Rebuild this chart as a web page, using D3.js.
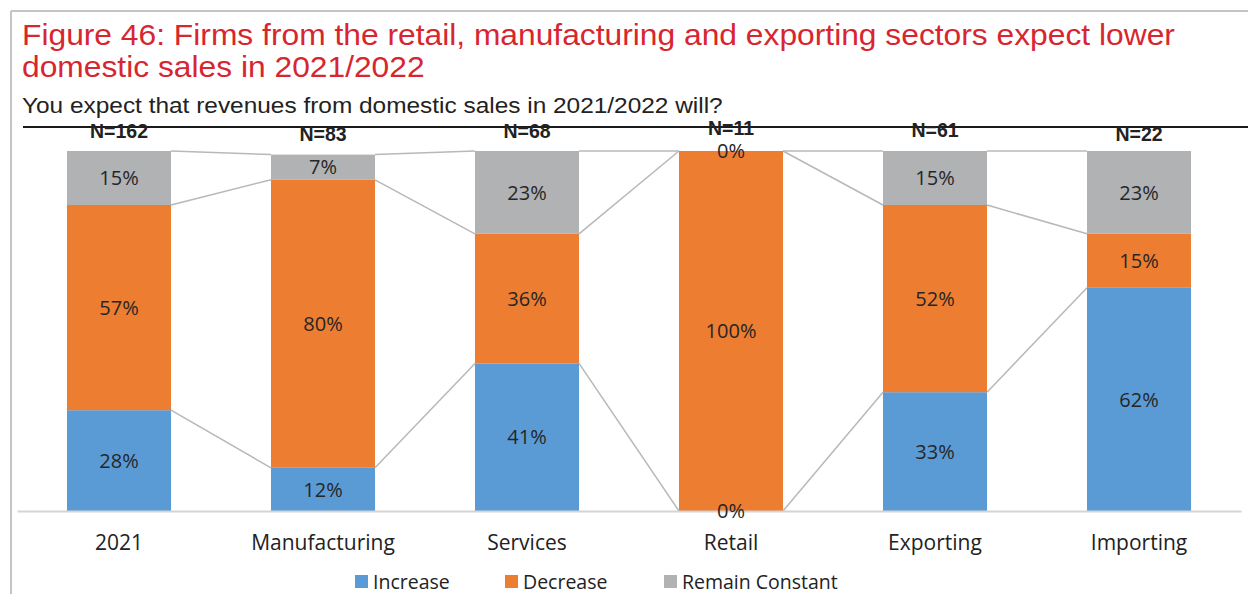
<!DOCTYPE html>
<html>
<head>
<meta charset="utf-8">
<script src="https://cdn.jsdelivr.net/npm/d3@7"></script>
<style>
  html, body { margin: 0; padding: 0; background: #fff; }
  svg { display: block; }
</style>
</head>
<body>
<svg id="chart" width="1248" height="594"></svg>
<script>
// Sector breakdown of expected domestic sales, 2021/2022 (%)
const categories = ["2021", "Manufacturing", "Services", "Retail", "Exporting", "Importing"];
const sampleSizes = ["N=162", "N=83", "N=68", "N=11", "N=61", "N=22"];
const increase = [28, 12, 41, 0, 33, 62];
const decrease = [57, 80, 36, 100, 52, 15];
const remainConstant = [15, 7, 23, 0, 15, 23];
const seriesNames = ["Increase", "Decrease", "Remain Constant"];
const seriesColors = ["#5b9bd5", "#ed7d31", "#b1b2b4"];

const titleLines = [
  "Figure 46: Firms from the retail, manufacturing and exporting sectors expect lower",
  "domestic sales in 2021/2022"
];
const subtitle = "You expect that revenues from domestic sales in 2021/2022 will?";

// Hand-placed vertical nudges for the sample-size text boxes (px)
const nLabelNudge = [0, 3, 0, -3.5, -1, 2.5];

const svg = d3.select("#chart");

// Outer frame (top and left edges)
svg.append("line").attr("x1", 11).attr("x2", 1248).attr("y1", 11).attr("y2", 11)
  .attr("stroke", "#c4c4c4").attr("stroke-width", 2);
svg.append("line").attr("x1", 11).attr("x2", 11).attr("y1", 11).attr("y2", 594)
  .attr("stroke", "#c4c4c4").attr("stroke-width", 2);

// Title (slightly widened sans)
svg.append("g").attr("transform", "translate(22,0) scale(1.096,1)")
  .append("text")
  .attr("font-family", "'Liberation Sans', Arial, sans-serif")
  .attr("font-size", 29)
  .attr("fill", "#d7262f")
  .selectAll("tspan").data(titleLines).join("tspan")
  .attr("x", 0).attr("y", (d, i) => 45 + i * 32)
  .text(d => d);

svg.append("g").attr("transform", "translate(22,0) scale(1.11,1)")
  .append("text")
  .attr("x", 0).attr("y", 113)
  .attr("font-family", "'Liberation Sans', Arial, sans-serif")
  .attr("font-size", 22)
  .attr("fill", "#222")
  .text(subtitle);

// Rule under the subtitle
svg.append("line").attr("x1", 23).attr("x2", 1248).attr("y1", 127).attr("y2", 127)
  .attr("stroke", "#1a1a1a").attr("stroke-width", 2);

// Scales
const x = d3.scaleBand().domain(categories).range([17, 1241])
  .paddingInner(0.49).paddingOuter(0.245);
const y = d3.scaleLinear().domain([0, 100]).range([511, 151]);
const bw = x.bandwidth();

const rows = categories.map((c, i) => ({
  cat: c, n: sampleSizes[i], nudge: nLabelNudge[i],
  values: [increase[i], decrease[i], remainConstant[i]]
}));
const stackData = rows.map(r => ({ cat: r.cat, s0: r.values[0], s1: r.values[1], s2: r.values[2] }));
const series = d3.stack().keys(["s0", "s1", "s2"])(stackData);

// Series lines linking segment tops between neighbouring columns
const seriesLines = [];
series.forEach(s => {
  for (let i = 0; i < s.length - 1; i++) {
    seriesLines.push({
      x1: x(categories[i]) + bw, y1: y(s[i][1]),
      x2: x(categories[i + 1]), y2: y(s[i + 1][1])
    });
  }
});
svg.append("g").selectAll("line").data(seriesLines).join("line")
  .attr("x1", d => d.x1).attr("y1", d => d.y1)
  .attr("x2", d => d.x2).attr("y2", d => d.y2)
  .attr("stroke", "#b8b8b8").attr("stroke-width", 1.5);

// Stacked bars
const groups = svg.append("g").selectAll("g").data(series).join("g")
  .attr("fill", (d, i) => seriesColors[i]);
groups.selectAll("rect").data(d => d).join("rect")
  .attr("x", d => x(d.data.cat))
  .attr("y", d => y(d[1]))
  .attr("width", bw)
  .attr("height", d => y(d[0]) - y(d[1]));

// Category axis
const xAxis = svg.append("g").attr("transform", `translate(0,${y(0)})`)
  .call(d3.axisBottom(x).tickSize(0).tickPadding(24));
xAxis.select(".domain").attr("stroke", "#d4d4d4").attr("stroke-width", 2);
xAxis.selectAll("text")
  .attr("font-family", "'Open Sans', sans-serif")
  .attr("font-size", 21)
  .attr("fill", "#222");

// Segment value labels
const labelFont = "'Open Sans', sans-serif";
svg.append("g").selectAll("g").data(series).join("g")
  .selectAll("text").data(d => d).join("text")
  .attr("x", d => x(d.data.cat) + bw / 2)
  .attr("y", d => (y(d[0]) + y(d[1])) / 2)
  .attr("dy", "0.36em")
  .attr("text-anchor", "middle")
  .attr("font-family", labelFont)
  .attr("font-size", 20)
  .attr("fill", "#262626")
  .text(d => `${d[1] - d[0]}%`);

// Sample sizes above each column
svg.append("g").selectAll("text").data(rows).join("text")
  .attr("x", d => x(d.cat) + bw / 2)
  .attr("y", d => 131 + d.nudge)
  .attr("dy", "0.36em")
  .attr("text-anchor", "middle")
  .attr("font-family", "'Liberation Sans', Arial, sans-serif")
  .attr("font-weight", "bold")
  .attr("font-size", 19.5)
  .attr("fill", "#222")
  .text(d => d.n);

// Legend
const legendX = [355, 505, 664];
const legend = svg.append("g").selectAll("g").data(seriesNames).join("g")
  .attr("transform", (d, i) => `translate(${legendX[i]},575)`);
legend.append("rect").attr("width", 13).attr("height", 13)
  .attr("fill", (d, i) => seriesColors[i]);
legend.append("text")
  .attr("x", 18).attr("y", 7).attr("dy", "0.36em")
  .attr("font-family", labelFont)
  .attr("font-size", 19.5)
  .attr("fill", "#222")
  .text(d => d);
</script>
</body>
</html>
